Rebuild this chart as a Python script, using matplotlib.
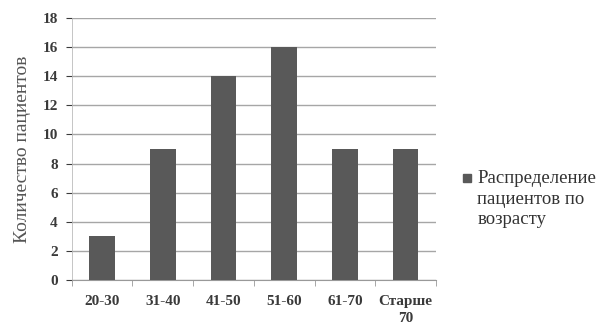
import matplotlib.pyplot as plt
import matplotlib.patches as mpatches
import numpy as np

# DATA
categories = ["20-30", "31-40", "41-50", "51-60", "61-70", "Старше\n70"]
patients = [3, 9, 14, 16, 9, 9]
series_label = "Распределение\nпациентов по\nвозрасту"

plt.rcParams["font.family"] = ["Liberation Serif", "DejaVu Serif"]

fig = plt.figure(figsize=(6.08, 3.31), dpi=100)
ax = fig.add_axes([0.118, 0.154, 0.599, 0.792])

x = np.arange(len(categories))
ax.bar(x, patients, width=0.42, color="#595959", zorder=3)

ax.set_xlim(-0.5, len(categories) - 0.5)
ax.set_ylim(0, 18)
ax.set_yticks(range(0, 19, 2))
ax.set_xticks(x)
ax.set_xticklabels(categories, fontsize=11, fontweight="bold", color="#3a3a3a", linespacing=1.4)
ax.tick_params(axis="y", labelsize=11, colors="#3a3a3a", length=4, width=0.8, pad=6)
ax.tick_params(axis="x", length=0, pad=11)
for lbl in ax.get_yticklabels():
    lbl.set_fontweight("bold")

# tick marks between categories on the bottom axis
ax.set_xticks(np.arange(-0.5, len(categories), 1), minor=True)
ax.tick_params(axis="x", which="minor", length=4, color="#999999")

ax.grid(axis="y", color="#a6a6a6", linewidth=1.0, zorder=0)
for side in ["top", "right"]:
    ax.spines[side].set_visible(False)
ax.spines["left"].set_color("#bbbbbb")
ax.spines["left"].set_linewidth(0.6)
ax.spines["bottom"].set_color("#999999")

ax.set_ylabel("Количество пациентов", fontsize=14, color="#555555", labelpad=8)

# legend: square marker next to first line of the label
fig.patches.append(mpatches.Rectangle((0.762, 0.449), 0.013, 0.024, transform=fig.transFigure,
                                      color="#595959", figure=fig))
fig.text(0.785, 0.485, series_label, fontsize=13.5, color="#333333", va="top", ha="left",
         linespacing=1.25)

fig.savefig("out.png", dpi=100)
